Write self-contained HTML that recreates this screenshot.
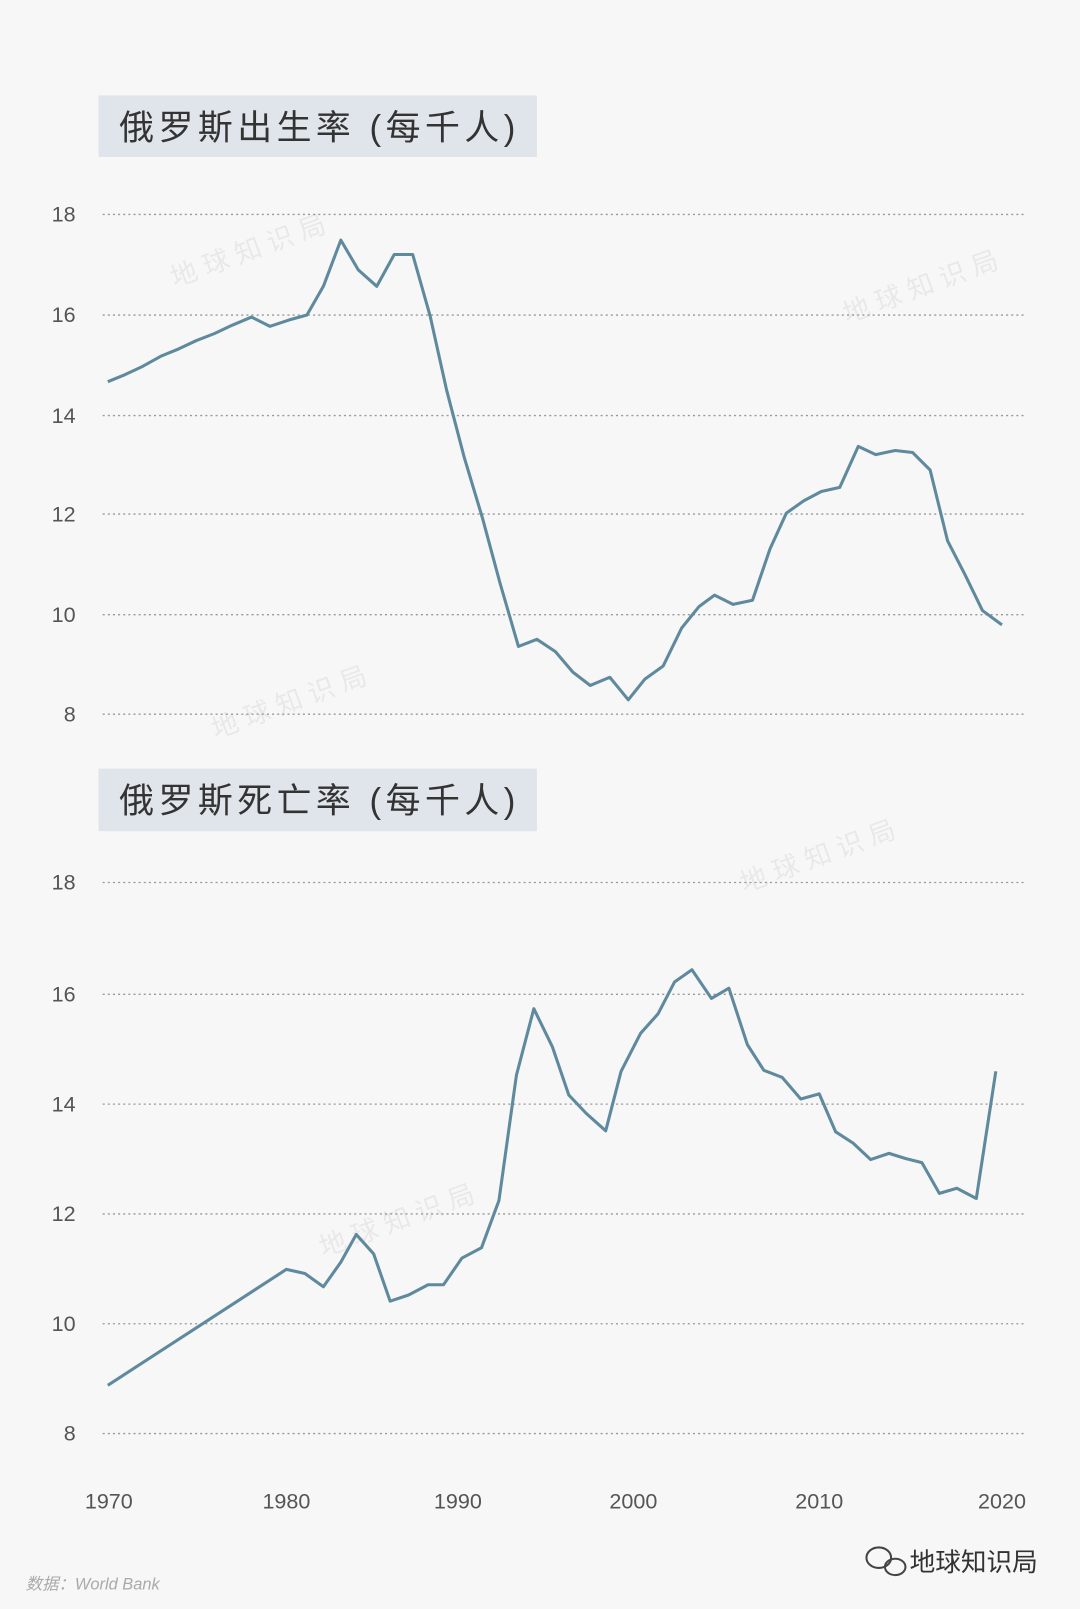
<!DOCTYPE html>
<html><head><meta charset="utf-8">
<style>
html,body{margin:0;padding:0;background:#f7f7f7;}
svg{display:block;}
text{font-family:"Liberation Sans","Noto Sans CJK SC",sans-serif;}
</style></head>
<body>
<svg width="1080" height="1609" viewBox="0 0 1052 1568" preserveAspectRatio="none" xmlns="http://www.w3.org/2000/svg">
<rect width="1052" height="1568" fill="#f7f7f7"/>
<g fill="#000" fill-opacity="0.06" font-size="26">
<text transform="translate(170,280) rotate(-20)">地 球 知 识 局</text>
<text transform="translate(825,315) rotate(-20)">地 球 知 识 局</text>
<text transform="translate(210,720) rotate(-20)">地 球 知 识 局</text>
<text transform="translate(725,870) rotate(-20)">地 球 知 识 局</text>
<text transform="translate(315,1225) rotate(-20)">地 球 知 识 局</text>
</g>
<rect x="96" y="93" width="427" height="60" fill="#dfe5ea"/>
<text x="116" y="136" font-size="34" fill="#333" textLength="386" lengthAdjust="spacing">俄罗斯出生率 (每千人)</text>
<rect x="96" y="749" width="427" height="61" fill="#dfe5ea"/>
<text x="116" y="792" font-size="34" fill="#333" textLength="386" lengthAdjust="spacing">俄罗斯死亡率 (每千人)</text>
<g stroke="#999" stroke-width="1.3" stroke-dasharray="2,3">
<line x1="100" x2="997" y1="209" y2="209"/><line x1="100" x2="997" y1="307" y2="307"/>
<line x1="100" x2="997" y1="405" y2="405"/><line x1="100" x2="997" y1="501" y2="501"/>
<line x1="100" x2="997" y1="599" y2="599"/><line x1="100" x2="997" y1="696" y2="696"/>
<line x1="100" x2="997" y1="860" y2="860"/><line x1="100" x2="997" y1="969" y2="969"/>
<line x1="100" x2="997" y1="1076" y2="1076"/><line x1="100" x2="997" y1="1183" y2="1183"/>
<line x1="100" x2="997" y1="1290" y2="1290"/><line x1="100" x2="997" y1="1397" y2="1397"/>
</g>
<g font-size="21" fill="#555" text-anchor="middle">
<text x="62" y="216">18</text><text x="62" y="314">16</text><text x="62" y="412">14</text>
<text x="62" y="508">12</text><text x="62" y="606">10</text><text x="68" y="703">8</text>
<text x="62" y="867">18</text><text x="62" y="976">16</text><text x="62" y="1083">14</text>
<text x="62" y="1190">12</text><text x="62" y="1297">10</text><text x="68" y="1404">8</text>
<text x="106" y="1470">1970</text><text x="279" y="1470">1980</text><text x="446" y="1470">1990</text>
<text x="617" y="1470">2000</text><text x="798" y="1470">2010</text><text x="976" y="1470">2020</text>
</g>
<polyline fill="none" stroke="#5f8a9d" stroke-width="3" stroke-linejoin="round" points="105,372 122,365 139,357 157,347 174,340 191,332 209,325 226,317 245,309 263,318 281,312 299,307 315,279 332,234 349,263 367,279 384,248 402,248 419,308 435,380 452,445 470,505 487,568 505,630 523,623 541,635 558,655 575,668 594,660 612,682 628,662 646,649 664,612 681,591 696,580 714,589 733,585 750,535 766,500 783,488 800,479 818,475 836,435 853,443 872,439 889,441 906,458 923,527 940,560 957,595 976,609"/>
<polyline fill="none" stroke="#5f8a9d" stroke-width="3" stroke-linejoin="round" points="105,1350 279,1237 297,1241 315,1254 332,1230 347,1203 364,1222 380,1268 398,1262 417,1252 432,1252 450,1226 469,1216 486,1170 503,1048 520,983 538,1020 554,1067 571,1085 590,1102 605,1044 624,1007 641,988 657,957 674,945 693,973 710,963 728,1018 744,1043 762,1050 780,1071 798,1066 814,1103 831,1114 848,1130 866,1124 882,1129 898,1133 915,1163 932,1158 951,1168 970,1044"/>
<text x="25" y="1549" font-size="16" fill="#aaa" font-style="italic" font-family="Liberation Mono, Noto Sans CJK SC, monospace">数据：World Bank</text>
<g fill="none" stroke="#444" stroke-width="2">
<ellipse cx="856" cy="1518" rx="12" ry="10"/><ellipse cx="872" cy="1527" rx="10" ry="8"/>
</g>
<text x="886" y="1531" font-size="25" fill="#333">地球知识局</text>
</svg>
</body></html>
